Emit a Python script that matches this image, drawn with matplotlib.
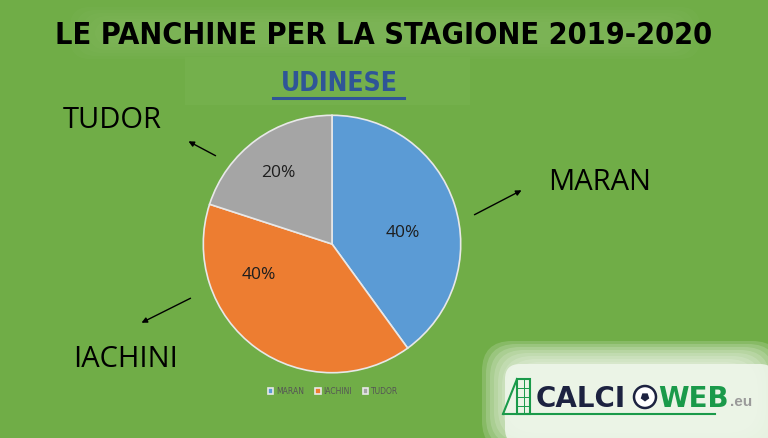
""" Pie chart of the Udinese coaches for the 2019-2020 season. """

import matplotlib.pyplot as plt
import matplotlib.patches as mpatches
from matplotlib.patches import FancyBboxPatch

# Chart data
coaches = ['MARAN', 'IACHINI', 'TUDOR']
shares = [40, 40, 20]
colors = ['#5B9BD5', '#ED7D31', '#A5A5A5']

title_text = 'LE PANCHINE PER LA STAGIONE 2019-2020'
team_text = 'UDINESE'

bg = '#70AD47'

fig = plt.figure(figsize=(7.68, 4.39), dpi=100)
fig.patch.set_facecolor(bg)

# Overlay axes in pixel coordinates for texts, arrows and decorations
ov = fig.add_axes([0, 0, 1, 1])
ov.set_xlim(0, 768)
ov.set_ylim(439, 0)
ov.axis('off')

# Soft lighter glow behind the title
for i in range(6):
    ov.add_patch(FancyBboxPatch((70 + i * 6, 8 + i * 3), 630 - i * 12, 52 - i * 6,
                                boxstyle='round,pad=0,rounding_size=20',
                                fc='#8cc06a', ec='none', alpha=0.10, zorder=0))
# Lighter box behind the team name
ov.add_patch(mpatches.Rectangle((185, 58), 285, 48, fc='#74b04c', ec='none', zorder=0))

ov.text(384, 36, title_text, ha='center', va='center', fontsize=22,
        fontweight='bold', family='DejaVu Sans', fontstretch='condensed', color='black')
ov.text(339, 84, team_text, ha='center', va='center', fontsize=19,
        fontweight='bold', family='DejaVu Sans', fontstretch='condensed', color='#2F5597')
ov.plot([273, 404], [99, 99], color='#2F5597', lw=2.2)

# Name labels with arrows
label_pos = {'TUDOR': (112, 121), 'MARAN': (600, 183), 'IACHINI': (126, 360)}
arrows = {'TUDOR': ((218, 158), (186, 141)),
          'MARAN': ((472, 217), (524, 190)),
          'IACHINI': ((193, 298), (139, 325))}
for name in coaches:
    x, y = label_pos[name]
    ov.text(x, y, name, ha='center', va='center', fontsize=21,
            family='Open Sans', color='black')
    (x0, y0), (x1, y1) = arrows[name]
    ov.annotate('', xy=(x1, y1), xytext=(x0, y0),
                arrowprops=dict(arrowstyle='-|>', color='black', lw=1,
                                mutation_scale=8))

# Pie chart
pie_ax = fig.add_axes([202 / 768, 1 - 375 / 439, 260 / 768, 260 / 439])
wedges, texts, autotexts = pie_ax.pie(
    shares, colors=colors, startangle=90, counterclock=False,
    autopct='%1.0f%%', pctdistance=0.6,
    wedgeprops=dict(edgecolor='#e8e8e8', linewidth=1.2),
    textprops=dict(fontsize=12.5, family='Open Sans', color='#1e1e1e'))
pie_ax.set_xlim(-1.01, 1.01)
pie_ax.set_ylim(-1.01, 1.01)
pie_ax.set_aspect('equal')
label_xy = [(0.55, 0.09), (-0.57, -0.23), (-0.42, 0.56)]
for t, p in zip(autotexts, label_xy):
    t.set_position(p)

# Small legend under the pie
leg = fig.legend(wedges, coaches, loc='center', bbox_to_anchor=(333 / 768, 1 - 392 / 439),
                 ncol=3, frameon=False, fontsize=5.5, handlelength=0.7, handleheight=0.7,
                 columnspacing=1.5, handletextpad=0.3, labelcolor='#555555')

# CALCIOWEB logo at the bottom right
for i in range(8):
    ov.add_patch(FancyBboxPatch((482 + i * 4, 342 + i * 3), 300 - i * 8, 110 - i * 6,
                                boxstyle='round,pad=0,rounding_size=30',
                                fc='#f4f9f0', ec='none', alpha=0.18, zorder=1))
ov.add_patch(FancyBboxPatch((505, 365), 270, 80, boxstyle='round,pad=0,rounding_size=15',
                            fc='#eef6ea', ec='none', alpha=0.9, zorder=1))
# goal net icon
ov.add_patch(mpatches.Rectangle((517, 380), 13, 35, fc='none', ec='#1a9a4a', lw=1.5, zorder=2))
for k in range(1, 4):
    ov.plot([517, 530], [380 + k * 9, 380 + k * 9], color='#1a9a4a', lw=0.7, zorder=2)
ov.plot([523.5, 523.5], [380, 415], color='#1a9a4a', lw=0.7, zorder=2)
ov.plot([503, 517], [415, 380], color='#1a9a4a', lw=1.5, zorder=2)
ov.plot([503, 715], [415, 415], color='#1a9a4a', lw=1.5, zorder=2)
ov.text(536, 399, 'CALCI', ha='left', va='center', fontsize=20, fontweight='bold',
        family='DejaVu Sans', color='#1c2240', zorder=3)
ov.add_patch(mpatches.Circle((645, 398), 11, fc='white', ec='#1c2240', lw=1.8, zorder=3))
ov.add_patch(mpatches.RegularPolygon((645, 398), 5, radius=4.5, fc='#1c2240', zorder=4))
ov.text(658, 399, 'WEB', ha='left', va='center', fontsize=20, fontweight='bold',
        family='DejaVu Sans', color='#1a9a4a', zorder=3)
ov.text(730, 402, '.eu', ha='left', va='center', fontsize=11, fontweight='bold',
        family='Liberation Sans', color='#9a9a9a', zorder=3)

plt.savefig('out.png', dpi=100, facecolor=fig.get_facecolor())
